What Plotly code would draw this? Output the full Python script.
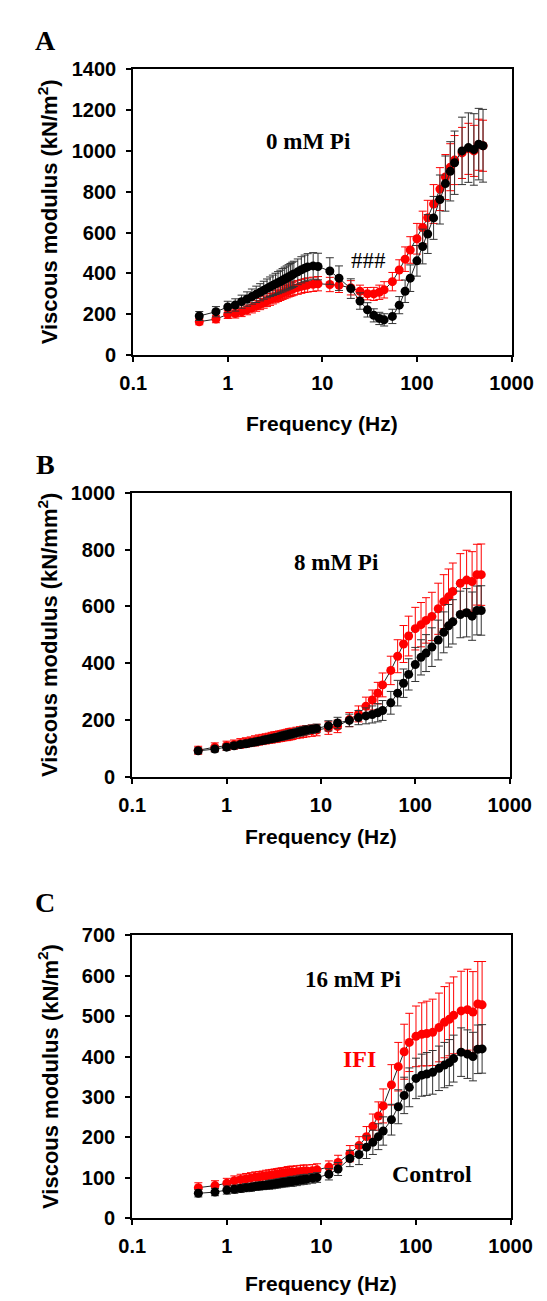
import plotly.graph_objects as go

# ---------------- data ----------------
freq_hz = [0.5, 0.75, 1.0, 1.2, 1.4, 1.6, 1.8, 2.0, 2.2, 2.4, 2.6, 2.8, 3.0, 3.2, 3.4, 3.6,
           3.8, 4.0, 4.2, 4.4, 4.6, 4.8, 5.0, 5.5, 6.0, 6.5, 7.0, 8.0, 9.0,
           12, 15, 20, 25, 30, 35, 40, 45, 55, 65, 75, 85, 100, 115, 130, 150, 175,
           200, 225, 250, 300, 350, 400, 450, 500]

# Panel A: 0 mM Pi
a_control = [192, 213, 236, 246, 262, 275, 287, 298, 308, 318, 327, 335, 342, 349, 355, 361,
             367, 373, 378, 383, 388, 393, 398, 408, 418, 426, 432, 437, 434,
             412, 377, 326, 265, 222, 195, 180, 173, 190, 245, 313, 377, 462, 532, 593, 672, 762,
             840, 900, 942, 1000, 1016, 1007, 1033, 1025]
a_control_err = [22, 25, 28, 30, 32, 35, 37, 40, 42, 44, 46, 48, 50, 52, 54, 55,
                 57, 58, 59, 60, 61, 62, 62, 63, 64, 64, 65, 65, 65,
                 65, 60, 48, 40, 35, 32, 30, 30, 35, 42, 55, 65, 75, 85, 95, 105, 120,
                 135, 145, 155, 165, 170, 175, 175, 178]
a_ifi = [164, 177, 200, 204, 212, 222, 232, 241, 250, 258, 266, 273, 280, 287, 293, 299,
         304, 309, 313, 317, 321, 324, 327, 332, 337, 341, 344, 347, 350,
         346, 342, 330, 313, 301, 300, 308, 320, 360, 417, 470, 515, 570, 625, 673, 740, 813,
         872, 920, 955, 990, 1010, 1000, 1030, 1025]
a_ifi_err = [15, 18, 20, 22, 23, 24, 25, 26, 27, 28, 28, 29, 29, 30, 30, 31,
             31, 32, 32, 32, 33, 33, 33, 34, 34, 34, 35, 35, 35,
             35, 35, 35, 30, 30, 32, 35, 40, 45, 50, 60, 65, 75, 80, 85, 95, 105,
             110, 115, 120, 125, 125, 125, 125, 125]

# Panel B: 8 mM Pi
b_control = [92, 98, 105, 110, 114, 117, 120, 123, 126, 128, 131, 133, 135, 137, 139, 141,
             143, 145, 147, 148, 150, 151, 153, 156, 159, 162, 165, 168, 171,
             180, 190, 199, 209, 215, 220, 226, 234, 261, 295, 330, 361, 396, 421, 436, 457, 482,
             509, 532, 546, 572, 578, 566, 586, 586]
b_control_err = [10, 10, 11, 11, 11, 12, 12, 12, 12, 12, 13, 13, 13, 13, 13, 13,
                 14, 14, 14, 14, 14, 14, 14, 15, 15, 15, 15, 15, 15,
                 18, 20, 22, 25, 28, 30, 32, 35, 40, 45, 50, 55, 60, 62, 65, 68, 70,
                 72, 75, 78, 82, 85, 85, 86, 87]
b_ifi = [94, 105, 110, 114, 118, 121, 124, 127, 130, 132, 134, 136, 138, 140, 141, 143,
         144, 146, 147, 148, 150, 151, 152, 155, 157, 159, 161, 163, 165,
         172, 178, 202, 222, 249, 271, 295, 324, 375, 425, 468, 496, 522, 536, 551, 565, 592,
         617, 634, 653, 682, 693, 688, 712, 712]
b_ifi_err = [14, 15, 16, 16, 17, 17, 17, 18, 18, 18, 18, 18, 19, 19, 19, 19,
             19, 19, 19, 20, 20, 20, 20, 20, 20, 20, 20, 20, 20,
             22, 22, 25, 28, 32, 35, 38, 42, 50, 58, 65, 70, 75, 78, 80, 85, 90,
             95, 98, 100, 104, 105, 105, 107, 108]

# Panel C: 16 mM Pi
c_control = [62, 65, 70, 72, 74, 76, 77, 79, 80, 81, 82, 83, 84, 85, 86, 87,
             88, 89, 89, 90, 91, 91, 92, 93, 95, 96, 97, 99, 101,
             109, 122, 148, 158, 176, 188, 202, 216, 244, 276, 304, 324, 346, 354, 357, 361, 371,
             379, 385, 395, 411, 406, 400, 418, 419]
c_control_err = [9, 9, 10, 10, 10, 10, 10, 10, 10, 10, 10, 11, 11, 11, 11, 11,
                 11, 11, 11, 11, 11, 12, 12, 12, 12, 12, 12, 12, 12,
                 14, 16, 20, 25, 28, 30, 32, 35, 38, 42, 45, 48, 50, 52, 53, 54, 55,
                 56, 57, 58, 60, 60, 60, 60, 60]
c_ifi = [76, 81, 87, 93, 96, 98, 100, 102, 103, 104, 105, 106, 107, 108, 109, 110,
         111, 111, 112, 113, 113, 114, 114, 115, 116, 117, 117, 118, 120,
         127, 138, 160, 180, 202, 228, 253, 278, 330, 375, 412, 435, 450, 455, 457, 460, 472,
         485, 492, 502, 513, 516, 510, 530, 528]
c_ifi_err = [12, 12, 12, 12, 13, 13, 13, 13, 13, 13, 14, 14, 14, 14, 14, 14,
             14, 14, 14, 15, 15, 15, 15, 15, 15, 15, 15, 15, 15,
             15, 18, 20, 22, 25, 30, 35, 42, 50, 60, 68, 72, 75, 78, 80, 82, 85,
             88, 90, 95, 98, 100, 100, 105, 107]

x_tickvals = [0.1, 1, 10, 100, 1000]
x_ticktext = ["0.1", "1", "10", "100", "1000"]

panel_letters = ["A", "B", "C"]
panel_pi = ["0 mM Pi", "8 mM Pi", "16 mM Pi"]
y_titles = ["Viscous modulus (kN/m<sup>2</sup>)",
            "Viscous modulus (kN/mm<sup>2</sup>)",
            "Viscous modulus (kN/m<sup>2</sup>)"]
y_ranges = [[0, 1400], [0, 1000], [0, 700]]
y_dticks = [200, 200, 100]
x_title = "Frequency (Hz)"

# ---------------- layout geometry (pixels) ----------------
W, H = 547, 1301
panels_px = [  # (left, right, top, bottom)
    (119, 524, 51, 342),
    (118, 522, 482, 771),
    (118, 523, 932, 1220),
]
letter_y = [22, 453, 899]
xtitle_y = [411, 832, 1286]

RED = "#ff0000"
BLACK = "#000000"
SANS = "Liberation Sans, Arial, sans-serif"
SERIF = "Liberation Serif, Times New Roman, serif"

fig = go.Figure()

series = [
    (a_control, a_control_err, a_ifi, a_ifi_err),
    (b_control, b_control_err, b_ifi, b_ifi_err),
    (c_control, c_control_err, c_ifi, c_ifi_err),
]

for i, (ctl, ctl_e, ifi, ifi_e) in enumerate(series):
    xa = "x" if i == 0 else f"x{i+1}"
    ya = "y" if i == 0 else f"y{i+1}"
    fig.add_trace(go.Scatter(
        x=freq_hz, y=ifi, xaxis=xa, yaxis=ya, mode="lines+markers", name="IFI",
        line=dict(color="#222222", width=1),
        marker=dict(color=RED, size=9),
        error_y=dict(type="data", array=ifi_e, visible=True, color=RED, thickness=1, width=4),
        showlegend=False))
    fig.add_trace(go.Scatter(
        x=freq_hz, y=ctl, xaxis=xa, yaxis=ya, mode="lines+markers", name="Control",
        line=dict(color="#222222", width=1),
        marker=dict(color=BLACK, size=9),
        error_y=dict(type="data", array=ctl_e, visible=True, color="#333333", thickness=1, width=4),
        showlegend=False))

layout = dict(width=W, height=H, autosize=False,
              margin=dict(l=0, r=0, t=0, b=0),
              paper_bgcolor="white", plot_bgcolor="white")

annotations = []
for i, (l, r, t, b) in enumerate(panels_px):
    xk = "xaxis" if i == 0 else f"xaxis{i+1}"
    yk = "yaxis" if i == 0 else f"yaxis{i+1}"
    ya = "y" if i == 0 else f"y{i+1}"
    layout[xk] = dict(
        type="log", range=[-1, 3], domain=[l / W, r / W], anchor=ya,
        tickvals=x_tickvals, ticktext=x_ticktext,
        ticks="outside", ticklen=5, tickwidth=1.5, tickcolor="black",
        ticklabelstandoff=4,
        showline=True, linecolor="black", linewidth=2, mirror=True,
        showgrid=False, zeroline=False,
        tickfont=dict(family=SANS, size=20, color="black", weight="bold"))
    layout[yk] = dict(
        range=y_ranges[i], dtick=y_dticks[i], domain=[1 - b / H, 1 - t / H],
        anchor="x" if i == 0 else f"x{i+1}",
        ticks="outside", ticklen=5, tickwidth=1.5, tickcolor="black",
        ticklabelstandoff=6,
        showline=True, linecolor="black", linewidth=2, mirror=True,
        showgrid=False, zeroline=False,
        tickfont=dict(family=SANS, size=20, color="black", weight="bold"))
    # panel letter
    annotations.append(dict(xref="paper", yref="paper", x=25 / W, y=1 - letter_y[i] / H,
                            text=panel_letters[i], showarrow=False,
                            font=dict(family=SERIF, size=28, color="black", weight="bold"),
                            xanchor="center", yanchor="middle"))
    # x axis title
    annotations.append(dict(xref="paper", yref="paper", x=(l + r) / 2 / W,
                            y=1 - xtitle_y[i] / H,
                            text=x_title, showarrow=False,
                            font=dict(family=SANS, size=21, color="black", weight="bold"),
                            xanchor="center", yanchor="middle"))
    # y axis title
    annotations.append(dict(xref="paper", yref="paper", x=28 / W, y=1 - (t + b) / 2 / H,
                            text=y_titles[i], showarrow=False, textangle=-90,
                            font=dict(family=SANS, size=22, color="black", weight="bold"),
                            xanchor="center", yanchor="middle"))

# in-plot labels (data coordinates)
annotations += [
    dict(xref="x", yref="y", x=0.85, y=1044, text=panel_pi[0], showarrow=False,
         font=dict(family=SERIF, size=23, color="black", weight="bold")),
    dict(xref="x", yref="y", x=1.49, y=462, text="###", showarrow=False,
         font=dict(family=SERIF, size=23, color="black")),
    dict(xref="x2", yref="y2", x=1.16, y=755, text=panel_pi[1], showarrow=False,
         font=dict(family=SERIF, size=23, color="black", weight="bold")),
    dict(xref="x3", yref="y3", x=1.33, y=590, text=panel_pi[2], showarrow=False,
         font=dict(family=SERIF, size=23, color="black", weight="bold")),
    dict(xref="x3", yref="y3", x=1.40, y=395, text="IFI", showarrow=False,
         font=dict(family=SERIF, size=24, color=RED, weight="bold")),
    dict(xref="x3", yref="y3", x=2.17, y=110, text="Control", showarrow=False,
         font=dict(family=SERIF, size=24, color="black", weight="bold")),
]
layout["annotations"] = annotations

fig.update_layout(**layout)
fig.write_html("out.html")
